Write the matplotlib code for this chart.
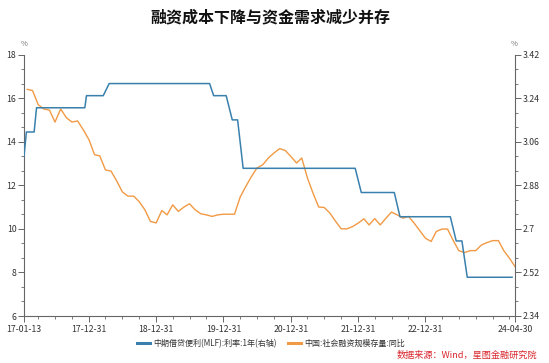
import matplotlib
matplotlib.use('Agg')
import matplotlib.pyplot as plt
import matplotlib.dates as mdates
from matplotlib.lines import Line2D
from matplotlib.ticker import FixedLocator, MultipleLocator
import pandas as pd

plt.rcParams['font.family'] = ['Noto Sans CJK SC', 'DejaVu Sans']

title = "融资成本下降与资金需求减少并存"
label_mlf = "中期借贷便利(MLF):利率:1年(右轴)"
label_tsf = "中国:社会融资规模存量:同比"
source = "数据来源：Wind，星图金融研究院"

# Social financing stock, yoy (%), monthly, left axis
tsf_months = pd.date_range('2017-01-31', '2024-04-30', freq='ME')
tsf_yoy = [
    16.4, 16.35, 15.7, 15.5, 15.45, 14.9, 15.5, 15.1, 14.9, 14.95, 14.55, 14.1,
    13.4, 13.35, 12.7, 12.65, 12.2, 11.7, 11.5, 11.5, 11.25, 10.87, 10.34, 10.27,
    10.84, 10.64, 11.1, 10.8, 11.0, 11.15, 10.87, 10.69, 10.64, 10.57, 10.64, 10.67,
    10.67, 10.67, 11.46, 11.94, 12.4, 12.79, 12.94, 13.25, 13.48, 13.68, 13.6, 13.32,
    13.02, 13.25, 12.33, 11.64, 11.0, 10.98, 10.72, 10.34, 10.0, 10.0, 10.1, 10.26,
    10.46, 10.18, 10.47, 10.18, 10.49, 10.77, 10.64, 10.49, 10.57, 10.26, 9.92, 9.57,
    9.42, 9.88, 9.99, 9.99, 9.46, 9.0, 8.91, 9.0, 9.0, 9.26, 9.37, 9.46,
    9.46, 9.0, 8.65, 8.27,
]

# MLF 1Y rate (%), operation dates, right axis
mlf_dates = pd.to_datetime([
    '2017-01-13', '2017-01-26', '2017-03-09', '2017-03-22', '2017-12-09', '2017-12-18',
    '2018-03-19', '2018-04-20', '2019-10-17', '2019-11-08', '2020-01-15', '2020-02-17',
    '2020-03-17', '2020-04-16', '2021-12-15', '2022-01-17', '2022-07-15', '2022-08-15',
    '2023-05-15', '2023-06-16', '2023-07-17', '2023-08-15', '2024-04-14',
])
mlf_rate = [
    3.00, 3.10, 3.10, 3.20, 3.20, 3.25,
    3.25, 3.30, 3.30, 3.25, 3.25, 3.15,
    3.15, 2.95, 2.95, 2.85, 2.85, 2.75,
    2.75, 2.65, 2.65, 2.50, 2.50,
]

xtick_dates = pd.to_datetime(['2017-01-13', '2017-12-31', '2018-12-31', '2019-12-31',
                              '2020-12-31', '2021-12-31', '2022-12-31', '2024-04-30'])
xtick_labels = ['17-01-13', '17-12-31', '18-12-31', '19-12-31',
                '20-12-31', '21-12-31', '22-12-31', '24-04-30']
minor_dates = pd.date_range('2017-03-31', '2024-03-31', freq='QE')

left_ticks = [6, 8, 10, 12, 14, 16, 18]
right_ticks = [2.34, 2.52, 2.70, 2.88, 3.06, 3.24, 3.42]
right_labels = ['2.34', '2.52', '2.7', '2.88', '3.06', '3.24', '3.42']

blue = '#3a80ad'
orange = '#f19a45'
axis_col = '#666666'
text_col = '#333333'

W, H = 549, 363
fig = plt.figure(figsize=(W / 100, H / 100), dpi=100)
fig.patch.set_facecolor('white')
ax = fig.add_axes([24 / W, 47 / H, 491 / W, 261.5 / H])
ax2 = ax.twinx()

ax.plot(tsf_months, tsf_yoy, color=orange, lw=1.0, zorder=3)
ax2.plot(mlf_dates, mlf_rate, color=blue, lw=1.1, zorder=2)

ax.set_xlim(xtick_dates[0], xtick_dates[-1])
ax.set_ylim(6, 18)
ax2.set_ylim(2.34, 3.42)

ax.set_xticks(xtick_dates)
ax.set_xticklabels(xtick_labels)
ax.xaxis.set_minor_locator(FixedLocator(mdates.date2num(minor_dates)))
ax.set_yticks(left_ticks)
ax.set_yticklabels([str(v) for v in left_ticks])
ax.yaxis.set_minor_locator(MultipleLocator(2 / 3))
ax2.set_yticks(right_ticks)
ax2.set_yticklabels(right_labels)
ax2.yaxis.set_minor_locator(MultipleLocator(0.06))

for a in (ax, ax2):
    a.spines['top'].set_visible(False)
    for s in a.spines.values():
        s.set_color(axis_col)
        s.set_linewidth(0.8)
ax.spines['right'].set_visible(False)
ax2.spines['left'].set_visible(False)
ax2.spines['bottom'].set_visible(False)

ax.tick_params(axis='both', which='major', direction='out', length=4, width=0.7,
               color=axis_col, labelsize=6.3, labelcolor=text_col, pad=1.5)
ax.tick_params(axis='both', which='minor', direction='out', length=2.5, width=0.6,
               color=axis_col)
ax.tick_params(axis='x', which='major', pad=2.5)
ax2.tick_params(axis='y', which='major', direction='out', length=4, width=0.7,
                color=axis_col, labelsize=6.3, labelcolor=text_col, pad=1.5)
ax2.tick_params(axis='y', which='minor', direction='out', length=2.5, width=0.6,
                color=axis_col)

fig.text(270 / W, 1 - 17 / H, title, ha='center', va='center', fontsize=11.5,
         fontweight='bold', color='#111111')
fig.text(24 / W, 1 - 44 / H, '%', ha='center', va='center', fontsize=5.5, color='#777777')
fig.text(514 / W, 1 - 44 / H, '%', ha='center', va='center', fontsize=5.5, color='#777777')

handles = [Line2D([], [], color=blue, lw=2.2), Line2D([], [], color=orange, lw=2.2)]
fig.legend(handles, [label_mlf, label_tsf], loc='center',
           bbox_to_anchor=(271 / W, 1 - 343.5 / H), ncol=2, frameon=False,
           fontsize=5.8, handlelength=1.6, handletextpad=0.5, columnspacing=1.3,
           labelcolor=text_col)

fig.text(537 / W, 1 - 355 / H, source, ha='right', va='center', fontsize=6.6,
         color='#d9262b', style='italic')

fig.savefig('out.png', dpi=100, facecolor='white')
